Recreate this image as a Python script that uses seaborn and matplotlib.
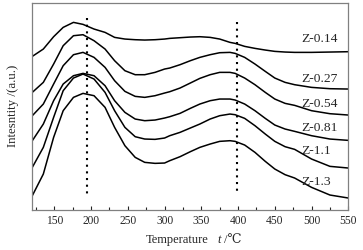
import numpy as np
import pandas as pd
import matplotlib
matplotlib.use("Agg")
import matplotlib.pyplot as plt
import seaborn as sns
from matplotlib.ticker import MultipleLocator

temps = [120, 135, 149, 162, 176, 189, 204, 219, 232, 246, 260, 273, 287, 300, 307,
         321, 335, 348, 362, 375, 389, 396, 409, 423, 437, 450, 464, 477, 500, 525, 550]
series_names = ["Z-0.14", "Z-0.27", "Z-0.54", "Z-0.81", "Z-1.1", "Z-1.3"]
# intensity (arbitrary units, larger = lower on chart)
z014 = [172, 150, 113, 85, 70, 76, 90, 100, 115, 120, 122, 123, 122, 120, 118,
        116, 114, 113, 115, 120, 130, 133, 142, 148, 153, 157, 159, 160, 160, 159, 158]
z027 = [280, 250, 195, 140, 110, 107, 125, 150, 185, 215, 227, 227, 220, 210, 207,
        197, 185, 175, 167, 161, 160, 163, 175, 195, 217, 237, 250, 257, 265, 269, 270]
z054 = [350, 315, 255, 200, 167, 160, 175, 205, 245, 277, 292, 295, 290, 282, 278,
        267, 252, 238, 227, 220, 220, 223, 237, 257, 280, 300, 313, 319, 335, 344, 348]
z081 = [425, 375, 305, 255, 230, 223, 230, 260, 305, 340, 360, 365, 363, 357, 353,
        343, 328, 315, 305, 300, 300, 303, 315, 335, 358, 378, 390, 397, 410, 420, 424]
z11 = [505, 445, 355, 275, 237, 225, 240, 280, 335, 385, 413, 420, 421, 417, 410,
       400, 387, 375, 360, 350, 345, 347, 358, 380, 405, 427, 443, 451, 480, 502, 507]
z13 = [590, 525, 415, 335, 295, 283, 290, 325, 385, 440, 475, 490, 493, 492, 485,
       473, 458, 445, 435, 427, 425, 427, 438, 460, 487, 510, 527, 537, 565, 588, 597]
label_y = [39, 79, 104, 128, 151, 182]
peak_lines = [194, 399]

all_vals = [z014, z027, z054, z081, z11, z13]
rows = []
for name, vals in zip(series_names, all_vals):
    for t, v in zip(temps, vals):
        rows.append({"T": t, "I": (632 - v) / 3.0, "s": name})
df = pd.DataFrame(rows)

sns.set_style("ticks")
serif = ["Liberation Serif", "DejaVu Serif", "DejaVu Sans"]
plt.rcParams["font.family"] = serif

fig = plt.figure(figsize=(3.63, 2.51), dpi=100)
ax = fig.add_axes([0.089, 0.1606, 0.8705, 0.8234])
sns.lineplot(data=df, x="T", y="I", hue="s", palette=["black"] * 6,
             legend=False, ax=ax, linewidth=1.1, sort=False)

ax.plot([peak_lines[0]] * 2, [(632 - 57) / 3, (632 - 592) / 3], color="black",
        linestyle=(0, (1, 2.2)), linewidth=1.5)
ax.plot([peak_lines[1]] * 2, [(632 - 70) / 3, (632 - 585) / 3], color="black",
        linestyle=(0, (1, 2.2)), linewidth=1.5)

for name, ly in zip(series_names, label_y):
    ax.text(486, (632 - ly * 3) / 3, name, fontsize=9.7, va="center", ha="left")

ax.set_xlim(120, 550)
ax.set_ylim(0, 206.7)
ax.set_yticks([])
ax.xaxis.set_major_locator(MultipleLocator(50))
ax.xaxis.set_minor_locator(MultipleLocator(25))
ax.tick_params(axis="x", which="major", direction="in", length=3, width=0.8, labelsize=8.3, pad=3)
ax.tick_params(axis="x", which="minor", direction="in", length=2, width=0.8)
for sp in ax.spines.values():
    sp.set_visible(True)
    sp.set_color("#808080")
    sp.set_linewidth(0.9)

ax.set_xlabel("")
ax.set_ylabel("")
fig.text(208 / 363, 1 - 240 / 251, "Temperature", fontsize=9, ha="right", va="center")
fig.text(217 / 363, 1 - 240 / 251, "t", fontsize=9, ha="left", va="center", style="italic")
fig.text(224 / 363, 1 - 240 / 251, "/℃", fontsize=9, ha="left", va="center")
fig.text(13 / 363, 1 - 106 / 251, "Intesntity /(a.u.)", fontsize=9.3, ha="center",
         va="center", rotation=90)

fig.savefig("out.png", dpi=100)
